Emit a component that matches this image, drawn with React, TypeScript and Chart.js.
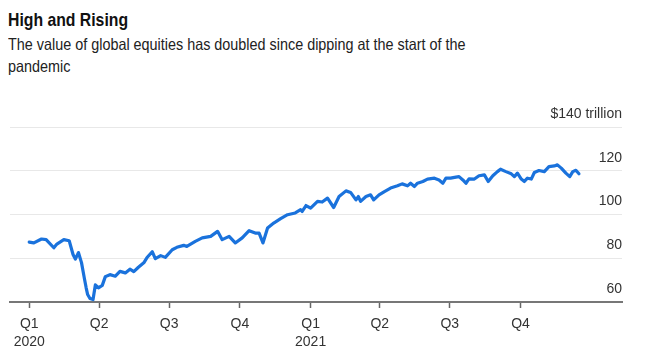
import React, { useEffect, useRef } from "react";
import { Chart, registerables } from "chart.js";

Chart.register(...registerables);

const dates = [
  "2020-01-01", "2020-01-07", "2020-01-17", "2020-01-23", "2020-02-02", "2020-02-06", "2020-02-15", "2020-02-22",
  "2020-02-27", "2020-03-01", "2020-03-05", "2020-03-09", "2020-03-13", "2020-03-15", "2020-03-17", "2020-03-20",
  "2020-03-24", "2020-03-27", "2020-03-31", "2020-04-05", "2020-04-09", "2020-04-15", "2020-04-22", "2020-04-28",
  "2020-05-05", "2020-05-11", "2020-05-16", "2020-05-22", "2020-05-29", "2020-06-02", "2020-06-09", "2020-06-13",
  "2020-06-20", "2020-06-26", "2020-07-05", "2020-07-11", "2020-07-20", "2020-07-24", "2020-08-04", "2020-08-13",
  "2020-08-24", "2020-09-02", "2020-09-08", "2020-09-17", "2020-09-25", "2020-10-04", "2020-10-13", "2020-10-21",
  "2020-10-26", "2020-10-31", "2020-11-06", "2020-11-14", "2020-11-23", "2020-12-02", "2020-12-12", "2020-12-19",
  "2020-12-21", "2020-12-26", "2021-01-01", "2021-01-10", "2021-01-16", "2021-01-23", "2021-01-31", "2021-02-07",
  "2021-02-16", "2021-02-22", "2021-03-01", "2021-03-04", "2021-03-07", "2021-03-14", "2021-03-20", "2021-03-24",
  "2021-03-31", "2021-04-07", "2021-04-15", "2021-04-24", "2021-04-30", "2021-05-07", "2021-05-11", "2021-05-16",
  "2021-05-20", "2021-05-27", "2021-06-02", "2021-06-11", "2021-06-17", "2021-06-22", "2021-06-26", "2021-07-02",
  "2021-07-09", "2021-07-13", "2021-07-18", "2021-07-22", "2021-07-26", "2021-08-02", "2021-08-08", "2021-08-15",
  "2021-08-20", "2021-08-26", "2021-09-01", "2021-09-05", "2021-09-12", "2021-09-19", "2021-09-23", "2021-09-27",
  "2021-10-02", "2021-10-06", "2021-10-10", "2021-10-15", "2021-10-19", "2021-10-25", "2021-11-01", "2021-11-07",
  "2021-11-14", "2021-11-18", "2021-11-23", "2021-11-29", "2021-12-04", "2021-12-08", "2021-12-12", "2021-12-16",
];

const equityValues = [
  87.4, 87.0, 88.8, 88.5, 84.8, 86.5, 88.5, 88.0,
  81.7, 79.6, 82.6, 78.0, 70.3, 66.6, 63.4, 61.6,
  61.1, 67.8, 66.5, 67.6, 71.6, 72.5, 71.8, 74.0,
  73.3, 75.0, 73.9, 75.9, 77.9, 80.2, 83.0, 79.8,
  81.2, 80.4, 83.9, 85.0, 85.9, 85.4, 87.7, 89.3,
  90.0, 92.3, 88.5, 90.0, 87.0, 89.3, 92.6, 91.5,
  91.5, 87.0, 93.8, 96.1, 98.1, 99.9, 100.7, 102.2,
  101.4, 104.1, 102.9, 106.0, 105.7, 107.5, 103.2, 108.2,
  110.8, 110.1, 106.7, 108.2, 106.0, 108.2, 109.0, 106.7,
  109.0, 110.5, 112.1, 113.1, 114.0, 113.1, 114.3, 112.8,
  114.3, 115.1, 116.2, 116.6, 115.8, 114.3, 116.6, 116.6,
  117.1, 117.3, 115.8, 114.3, 116.3, 116.2, 117.7, 118.1,
  115.1, 117.7, 119.6, 120.7, 119.6, 118.6, 117.3, 118.9,
  116.2, 115.1, 116.6, 116.2, 119.2, 120.1, 119.6, 121.9,
  122.2, 122.7, 121.2, 118.9, 117.3, 119.6, 120.2, 118.6,
];

const quarterDates = [
  "2020-01-01", "2020-04-01", "2020-07-01", "2020-10-01",
  "2021-01-01", "2021-04-01", "2021-07-01", "2021-10-01",
];
const quarterLabels: (string | string[])[] = [
  ["Q1", "2020"], "Q2", "Q3", "Q4", ["Q1", "2021"], "Q2", "Q3", "Q4",
];
const yTickValues = [60, 80, 100, 120, 140];
const yTickLabels = ["60", "80", "100", "120", "$140 trillion"];

const xStart = "2019-12-07";
const xEnd = "2022-02-10";

function dayNum(s: string): number {
  const [y, m, d] = s.split("-").map(Number);
  return (Date.UTC(y, m - 1, d) - Date.UTC(2020, 0, 1)) / 86400000;
}

export default function App() {
  const ref = useRef<HTMLCanvasElement | null>(null);

  useEffect(() => {
    if (!ref.current) return;
    const quarterDays = quarterDates.map(dayNum);
    const chart = new Chart(ref.current, {
      type: "line",
      data: {
        datasets: [
          {
            data: dates.map((d, i) => ({ x: dayNum(d), y: equityValues[i] })),
            borderColor: "#1a72dc",
            borderWidth: 3.2,
            pointRadius: 0,
            tension: 0,
            borderJoinStyle: "round",
            borderCapStyle: "round",
          },
        ],
      },
      options: {
        animation: false,
        responsive: false,
        plugins: { legend: { display: false }, tooltip: { enabled: false } },
        layout: { padding: { left: 10, right: 23, top: 47, bottom: 0 } },
        scales: {
          x: {
            type: "linear",
            min: dayNum(xStart),
            max: dayNum(xEnd),
            afterBuildTicks: (scale: any) => {
              scale.ticks = quarterDays.map((v) => ({ value: v }));
            },
            afterFit: (scale: any) => {
              scale.height = 52;
            },
            grid: {
              display: true,
              drawOnChartArea: false,
              drawTicks: true,
              tickLength: 6,
              tickWidth: 1.5,
              tickColor: "#666",
            },
            border: { display: true, color: "#777", width: 2 },
            ticks: {
              autoSkip: false,
              maxRotation: 0,
              padding: 7,
              color: "#333",
              font: { family: "'Liberation Sans', Arial, sans-serif", size: 14, lineHeight: 1.3 },
              callback: (v: any) => {
                const i = quarterDays.indexOf(Number(v));
                return i >= 0 ? quarterLabels[i] : "";
              },
            },
          },
          y: {
            position: "right",
            min: 60,
            max: 140,
            afterBuildTicks: (scale: any) => {
              scale.ticks = yTickValues.map((v) => ({ value: v }));
            },
            afterFit: (scale: any) => {
              scale.width = 0;
            },
            grid: { color: "#e8e8e8", lineWidth: 1, drawTicks: false },
            border: { display: false },
            ticks: {
              mirror: true,
              padding: 0,
              labelOffset: -13,
              color: "#333",
              font: { family: "'Liberation Sans', Arial, sans-serif", size: 14 },
              callback: (v: any) => {
                const i = yTickValues.indexOf(Number(v));
                return i >= 0 ? yTickLabels[i] : "";
              },
            },
          },
        },
      },
    } as any);
    return () => chart.destroy();
  }, []);

  return (
    <div>
      <div
        style={{
          position: "absolute",
          left: 8,
          top: 9,
          fontFamily: "'Liberation Sans', Arial, sans-serif",
          fontWeight: 700,
          fontSize: 19,
          lineHeight: "22px",
          color: "#111",
          whiteSpace: "nowrap",
          transform: "scaleX(0.83)",
          transformOrigin: "0 0",
        }}
      >
        High and Rising
      </div>
      <div
        style={{
          position: "absolute",
          left: 8,
          top: 33,
          fontFamily: "'Liberation Sans', Arial, sans-serif",
          fontSize: 16.5,
          lineHeight: "22px",
          color: "#222",
          whiteSpace: "nowrap",
          transform: "scaleX(0.872)",
          transformOrigin: "0 0",
        }}
      >
        The value of global equities has doubled since dipping at the start of the
        <br />
        pandemic
      </div>
      <canvas
        ref={ref}
        width={645}
        height={274}
        style={{ position: "absolute", left: 0, top: 80, width: 645, height: 274 }}
      />
    </div>
  );
}
